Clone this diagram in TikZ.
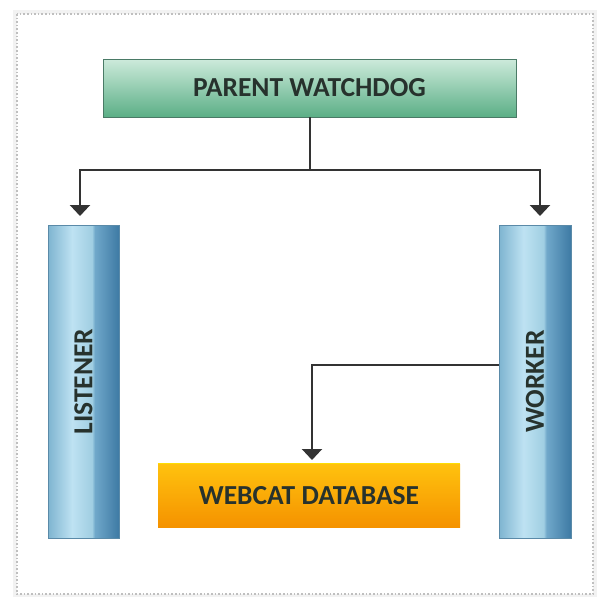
\documentclass[tikz,border=0pt]{standalone}
\usepackage{fontspec}
\setmainfont{Carlito}
\usetikzlibrary{arrows.meta}
\definecolor{txt}{HTML}{27322D}
\definecolor{lnk}{HTML}{333333}
\definecolor{gTop}{HTML}{CDEADB}
\definecolor{gBot}{HTML}{5BAF86}
\definecolor{gBrd}{HTML}{4A7A66}
\definecolor{oTop}{HTML}{FFC20E}
\definecolor{oBot}{HTML}{F59200}
\definecolor{bA}{HTML}{7EB4D0}
\definecolor{bB}{HTML}{BEE2F2}
\definecolor{bC}{HTML}{A0CEE2}
\definecolor{bD}{HTML}{70A8CA}
\definecolor{bE}{HTML}{3E7AA4}
\definecolor{bBrd}{HTML}{5A8AA8}
\pgfdeclarehorizontalshading{blueshade}{100bp}{
  color(0bp)=(bA);
  color(25bp)=(bA);
  color(42bp)=(bB);
  color(56bp)=(bC);
  color(58bp)=(bD);
  color(75bp)=(bE);
  color(100bp)=(bE)}
\begin{document}
\begin{tikzpicture}[x=1pt,y=-1pt,
  lbl/.style={font=\bfseries\fontsize{27.5}{30}\selectfont, text=txt},
  conn/.style={draw=lnk, line width=2.2pt},
  arr/.style={conn, -{Triangle[width=20pt,length=11pt]}},
  bar/.style={draw=bBrd, line width=0.6pt, shading=blueshade, shading angle=0, minimum height=313pt, inner sep=0pt}]
\useasboundingbox (0,0) rectangle (597,597);
\fill[white] (0,0) rectangle (597,597);
% frame
\fill[black!5] (13,10) rectangle (597,597);
\fill[white] (17,14) rectangle (593,594);
\draw[gray!50, dotted, line width=1.6pt] (17,14) rectangle (593,594);
% parent
\node[draw=gBrd, line width=0.8pt, top color=gTop, bottom color=gBot, minimum width=413pt, minimum height=58pt, inner sep=0pt] (parent) at (309.5,88) {};
\node[lbl] at (parent.center) {PARENT WATCHDOG};
% listener
\node[bar, minimum width=71pt] (listener) at (83.5,381.5) {};
\node[lbl, rotate=90] at (listener.center) {LISTENER};
% worker
\node[bar, minimum width=72pt] (worker) at (535,381.5) {};
\node[lbl, rotate=90] at (worker.center) {WORKER};
% database
\node[top color=oTop, bottom color=oBot, minimum width=302pt, minimum height=63pt, inner sep=0pt] (db) at (309,495.5) {};
\draw[yellow!80!orange, line width=1pt] (db.north west) -- (db.north east);
\node[lbl] at (db.center) {WEBCAT DATABASE};
% connectors
\coordinate (j) at (310,170);
\draw[conn] (parent.south -| j) -- (j);
\draw[arr] (j) -| (80,216);
\draw[arr] (j) -| (540,216);
\coordinate (w) at (312,365);
\draw[arr] (worker.west |- w) -- (w) -- (312,460);
\end{tikzpicture}
\end{document}
